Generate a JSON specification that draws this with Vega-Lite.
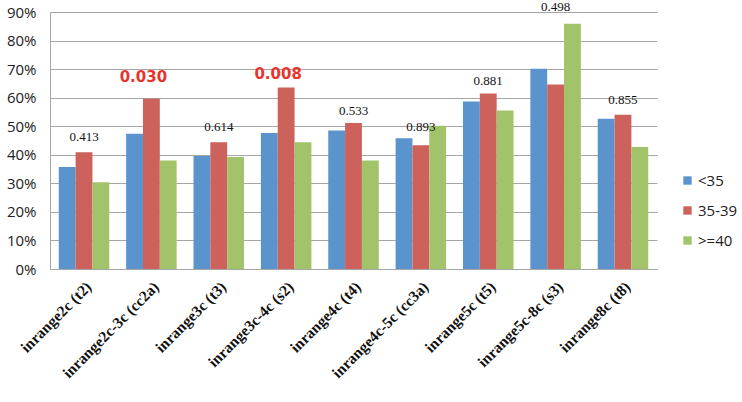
{
  "$schema": "https://vega.github.io/schema/vega-lite/v6.json",
  "width": 607,
  "height": 257,
  "autosize": "none",
  "padding": {"left": 50, "top": 12, "right": 85, "bottom": 133},
  "background": "white",
  "config": {"view": {"stroke": null}},
  "datasets": {
    "bars": [
      {"g": "inrange2c (t2)", "age": "<35", "v": 0.357},
      {"g": "inrange2c (t2)", "age": "35-39", "v": 0.409},
      {"g": "inrange2c (t2)", "age": ">=40", "v": 0.304},
      {"g": "inrange2c-3c (cc2a)", "age": "<35", "v": 0.474},
      {"g": "inrange2c-3c (cc2a)", "age": "35-39", "v": 0.596},
      {"g": "inrange2c-3c (cc2a)", "age": ">=40", "v": 0.380},
      {"g": "inrange3c (t3)", "age": "<35", "v": 0.396},
      {"g": "inrange3c (t3)", "age": "35-39", "v": 0.444},
      {"g": "inrange3c (t3)", "age": ">=40", "v": 0.392},
      {"g": "inrange3c-4c (s2)", "age": "<35", "v": 0.476},
      {"g": "inrange3c-4c (s2)", "age": "35-39", "v": 0.636},
      {"g": "inrange3c-4c (s2)", "age": ">=40", "v": 0.444},
      {"g": "inrange4c (t4)", "age": "<35", "v": 0.485},
      {"g": "inrange4c (t4)", "age": "35-39", "v": 0.511},
      {"g": "inrange4c (t4)", "age": ">=40", "v": 0.380},
      {"g": "inrange4c-5c (cc3a)", "age": "<35", "v": 0.458},
      {"g": "inrange4c-5c (cc3a)", "age": "35-39", "v": 0.433},
      {"g": "inrange4c-5c (cc3a)", "age": ">=40", "v": 0.502},
      {"g": "inrange5c (t5)", "age": "<35", "v": 0.587},
      {"g": "inrange5c (t5)", "age": "35-39", "v": 0.615},
      {"g": "inrange5c (t5)", "age": ">=40", "v": 0.555},
      {"g": "inrange5c-8c (s3)", "age": "<35", "v": 0.701},
      {"g": "inrange5c-8c (s3)", "age": "35-39", "v": 0.646},
      {"g": "inrange5c-8c (s3)", "age": ">=40", "v": 0.859},
      {"g": "inrange8c (t8)", "age": "<35", "v": 0.526},
      {"g": "inrange8c (t8)", "age": "35-39", "v": 0.540},
      {"g": "inrange8c (t8)", "age": ">=40", "v": 0.427}
    ],
    "labels": [
      {"g": "inrange2c (t2)", "p": "0.413", "y": 0.461, "sig": false},
      {"g": "inrange2c-3c (cc2a)", "p": "0.030", "y": 0.671, "sig": true},
      {"g": "inrange3c (t3)", "p": "0.614", "y": 0.498, "sig": false},
      {"g": "inrange3c-4c (s2)", "p": "0.008", "y": 0.684, "sig": true},
      {"g": "inrange4c (t4)", "p": "0.533", "y": 0.554, "sig": false},
      {"g": "inrange4c-5c (cc3a)", "p": "0.893", "y": 0.499, "sig": false},
      {"g": "inrange5c (t5)", "p": "0.881", "y": 0.660, "sig": false},
      {"g": "inrange5c-8c (s3)", "p": "0.498", "y": 0.918, "sig": false},
      {"g": "inrange8c (t8)", "p": "0.855", "y": 0.593, "sig": false}
    ]
  },
  "encoding": {
    "x": {
      "field": "g", "type": "nominal", "sort": null,
      "scale": {"paddingInner": 0.25, "paddingOuter": 0.13},
      "axis": {
        "title": null, "labelAngle": -45, "ticks": false, "grid": false,
        "domainColor": "#a6a6a6", "labelFont": "Liberation Serif", "labelFontSize": 15.5,
        "labelFontWeight": "bold", "labelColor": "#111111", "labelPadding": 10
      }
    },
    "y": {
      "type": "quantitative",
      "scale": {"domain": [0, 0.9], "nice": false},
      "axis": {
        "title": null, "format": ".0%", "values": [0, 0.1, 0.2, 0.3, 0.4, 0.5, 0.6, 0.7, 0.8, 0.9],
        "labelOverlap": false, "ticks": false, "domain": true, "domainColor": "#a6a6a6", "gridColor": "#a6a6a6",
        "labelFont": "Open Sans", "labelFontSize": 15, "labelColor": "#222222", "labelPadding": 14
      }
    }
  },
  "layer": [
    {
      "data": {"name": "bars"},
      "mark": {"type": "bar"},
      "encoding": {
        "xOffset": {"field": "age", "type": "nominal", "sort": ["<35", "35-39", ">=40"], "scale": {"paddingInner": 0, "paddingOuter": 0}},
        "y": {
          "field": "v", "type": "quantitative",
          "scale": {"domain": [0, 0.9], "nice": false},
          "axis": {
            "title": null, "format": ".0%", "values": [0, 0.1, 0.2, 0.3, 0.4, 0.5, 0.6, 0.7, 0.8, 0.9],
            "labelOverlap": false, "ticks": false, "domain": true, "domainColor": "#a6a6a6", "gridColor": "#a6a6a6",
            "labelFont": "Open Sans", "labelFontSize": 15, "labelColor": "#222222", "labelPadding": 14
          }
        },
        "color": {
          "field": "age", "type": "nominal",
          "scale": {"domain": ["<35", "35-39", ">=40"], "range": ["#5B94CD", "#CD615C", "#A2C36A"]},
          "legend": {
            "title": null, "orient": "none", "legendX": 630, "legendY": 161,
            "symbolType": "square", "symbolSize": 70, "symbolStrokeWidth": 0,
            "labelFont": "Open Sans", "labelFontSize": 15, "labelColor": "#222222",
            "rowPadding": 14, "labelOffset": 3
          }
        }
      }
    },
    {
      "data": {"name": "labels"},
      "transform": [{"filter": "datum.sig == false"}],
      "mark": {"type": "text", "font": "Liberation Serif", "fontSize": 13, "color": "#111111"},
      "encoding": {
        "y": {
          "field": "y", "type": "quantitative",
          "scale": {"domain": [0, 0.9], "nice": false},
          "axis": {
            "title": null, "format": ".0%", "values": [0, 0.1, 0.2, 0.3, 0.4, 0.5, 0.6, 0.7, 0.8, 0.9],
            "labelOverlap": false, "ticks": false, "domain": true, "domainColor": "#a6a6a6", "gridColor": "#a6a6a6",
            "labelFont": "Open Sans", "labelFontSize": 15, "labelColor": "#222222", "labelPadding": 14
          }
        },
        "text": {"field": "p"}
      }
    },
    {
      "data": {"name": "labels"},
      "transform": [{"filter": "datum.sig == true"}],
      "mark": {"type": "text", "font": "DejaVu Sans", "fontSize": 15, "fontWeight": "bold", "color": "#E8342C", "dx": -8},
      "encoding": {
        "y": {
          "field": "y", "type": "quantitative",
          "scale": {"domain": [0, 0.9], "nice": false},
          "axis": {
            "title": null, "format": ".0%", "values": [0, 0.1, 0.2, 0.3, 0.4, 0.5, 0.6, 0.7, 0.8, 0.9],
            "labelOverlap": false, "ticks": false, "domain": true, "domainColor": "#a6a6a6", "gridColor": "#a6a6a6",
            "labelFont": "Open Sans", "labelFontSize": 15, "labelColor": "#222222", "labelPadding": 14
          }
        },
        "text": {"field": "p"}
      }
    }
  ]
}
